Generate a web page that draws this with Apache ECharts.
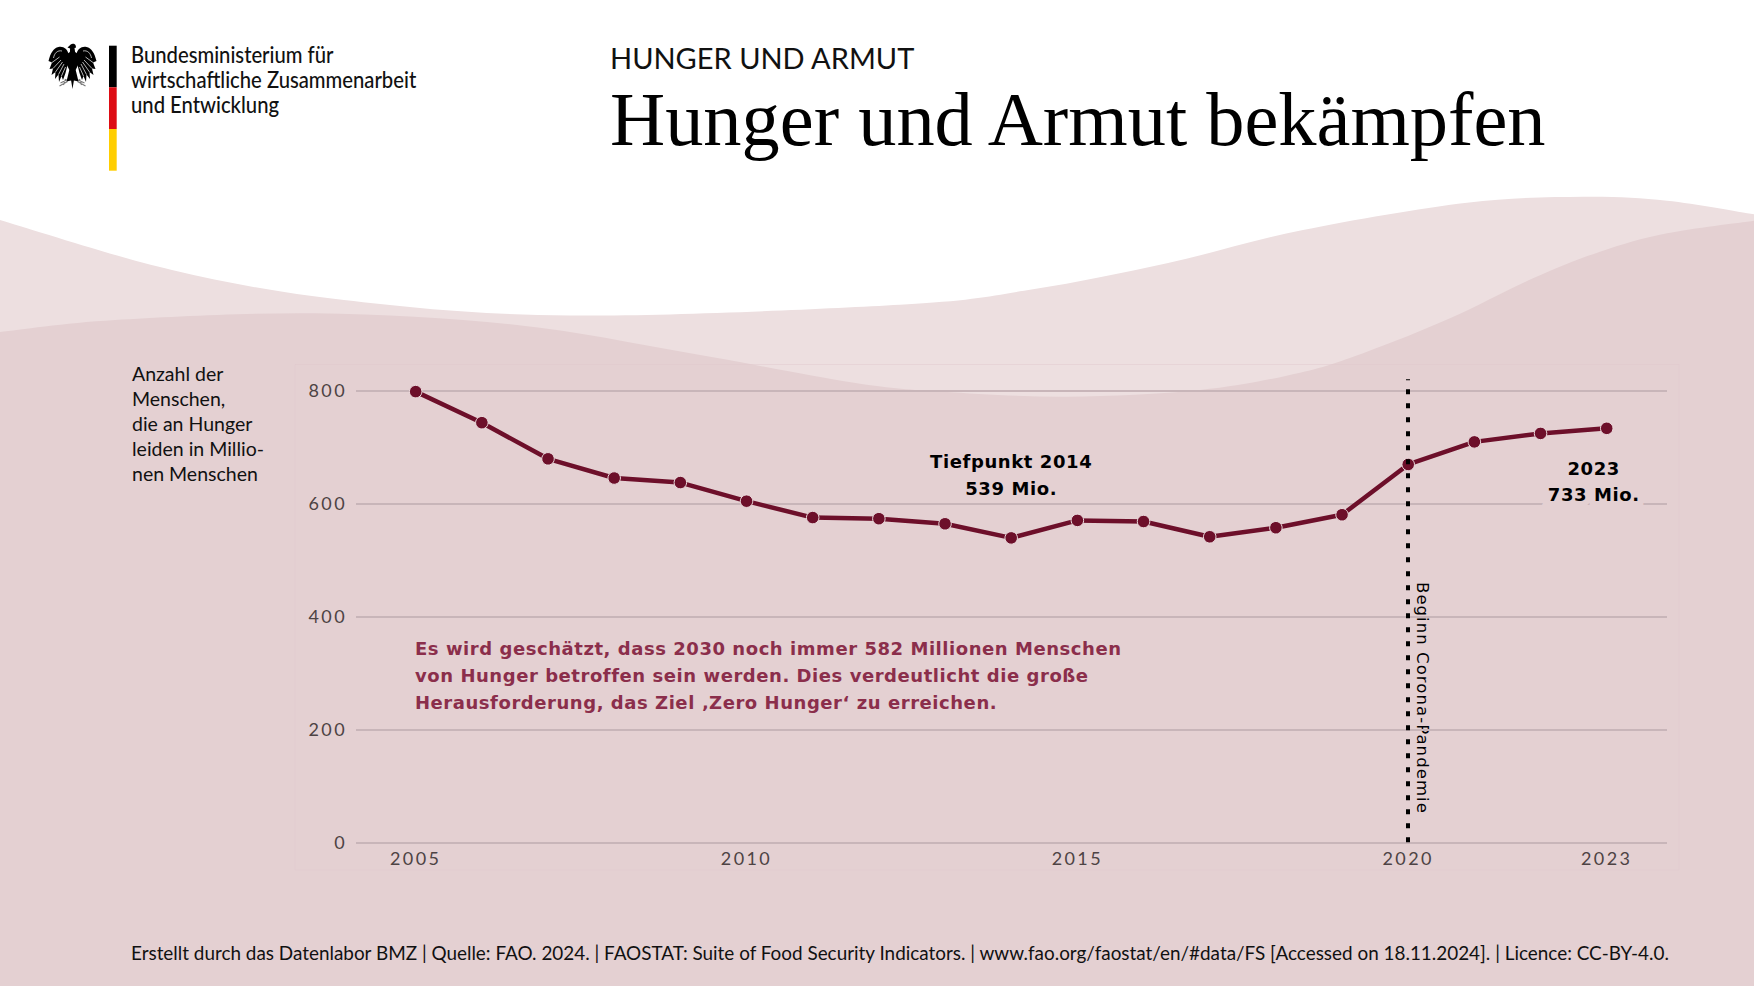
<!DOCTYPE html>
<html lang="de"><head><meta charset="utf-8">
<style>
html,body{margin:0;padding:0;background:#fff}
#c{width:1754px;height:987px}
text[fill="#4d4344"]{letter-spacing:2.4px}
text[fill="#000001"]{letter-spacing:.6px}
text[fill="#8b2e4b"]{letter-spacing:.55px}
text[fill="#000002"]{letter-spacing:1.06px}
</style>
<script src="https://cdn.jsdelivr.net/npm/echarts@6/dist/echarts.min.js"></script>
</head><body><div id="c"></div>
<script>
const years = [2005,2006,2007,2008,2009,2010,2011,2012,2013,2014,2015,2016,2017,2018,2019,2020,2021,2022,2023];
const hungry = [798,743,679,645,637,604,575,573,564,539,570,568,541,557,580,669,709,724,733];
const xTicks = [2005,2010,2015,2020,2023];
const yTicks = [0,200,400,600,800];
const headKicker = 'HUNGER UND ARMUT';
const headTitle = 'Hunger und Armut bekämpfen';
const logoLines = ['Bundesministerium für','wirtschaftliche Zusammenarbeit','und Entwicklung'];
const yNote = ['Anzahl der','Menschen,','die an Hunger','leiden in Millio-','nen Menschen'];
const bodyNote = ['Es wird geschätzt, dass 2030 noch immer 582 Millionen Menschen','von Hunger betroffen sein werden. Dies verdeutlicht die große','Herausforderung, das Ziel ‚Zero Hunger‘ zu erreichen.'];
const lowLabel = 'Tiefpunkt 2014\n539 Mio.';
const lastLabel = '2023\n733 Mio.';
const covidLabel = 'Beginn Corona-Pandemie';
const footer = 'Erstellt durch das Datenlabor BMZ | Quelle: FAO. 2024. | FAOSTAT: Suite of Food Security Indicators. | www.fao.org/faostat/en/#data/FS [Accessed on 18.11.2024]. | Licence: CC-BY-4.0.';

const lightWave = [[0,220],[172,270],[344,300],[570,315.5],[900,304.7],[1033,289.3],[1167,263.3],[1303,230],[1467,202.7],[1583,196.7],[1667,200.7],[1754,214.3]];
const darkWave = [[0,332],[115,320],[316,313.3],[517,325],[689,353],[854,382.7],[943,391.7],[1067,396.7],[1200,390],[1300,372.7],[1367,351.7],[1450,318.3],[1533,278.3],[1600,251.7],[1667,233.3],[1754,220.7]];

function waveShape(p){
  let d = 'M0 986L'+p[0][0]+' '+p[0][1];
  for(let i=0;i<p.length-1;i++){
    const a=p[Math.max(i-1,0)],b=p[i],c=p[i+1],e=p[Math.min(i+2,p.length-1)];
    d+='C'+(b[0]+(c[0]-a[0])/6)+' '+(b[1]+(c[1]-a[1])/6)+' '+(c[0]-(e[0]-b[0])/6)+' '+(c[1]-(e[1]-b[1])/6)+' '+c[0]+' '+c[1];
  }
  return d+'L1754 986Z';
}
let shapeCount = 0;
function pathType(d){
  const name = 'svgShape'+(shapeCount++);
  echarts.graphic.registerShape(name, echarts.graphic.extendPath(d,{}));
  return name;
}
const ink = '#111111';
const wingBlack = 'M-4 11C-5 6-9 3-14 4C-19 5-22 10-24 18L-20.5 19.5L-23 26L-19.5 25.5L-21 32L-17 29L-17.5 36L-14 31.5L-13.5 39L-11 33L-9.5 37L-7 30L-5 22Z';
const wingCuts = 'M-20.5 19.5L-13 14M-19.5 25.5L-11.5 17M-17 29L-10 19M-14 31.5L-8.5 21M-11 33L-7 24M-19 15C-18 10-15 7-10.5 8';
const eagleBody = 'M-1.8 1.5C-.5 .2 2 .4 3 2L3.6 4.6L2 5L2.6 9L5.5 11L6 21L3.2 27L6 38.5L1.4 37.5L0 46L-1.4 37.5L-6 38.5L-3.2 27L-6 21L-5.5 11L-2.6 9L-2.4 5.4L-5 4.6Z';
const eagleFeet = 'M-4 36L-12 40M-5 38.5L-13 43M-7 36L-9 42M3.5 36L12 40M5 38.5L13 43M7 36L9 42';

function eagle(){
  const wb=pathType(wingBlack), wc=pathType(wingCuts), ef=pathType(eagleFeet), eb=pathType(eagleBody);
  const wing = s => [
    {type:wb,scaleX:s,style:{fill:'#000'}},
    {type:wc,scaleX:s,style:{fill:'none',stroke:'#fff',lineWidth:.7}}
  ];
  return {type:'group',x:72.5,y:43,children:[
    ...wing(1),...wing(-1),
    {type:ef,style:{fill:'none',stroke:'#777',lineWidth:1.1}},
    {type:eb,style:{fill:'#000'}}
  ]};
}
const textEl = (t,x,y,font,fill,extra) => Object.assign({type:'text',x,y,style:Object.assign({text:t,font,fill,textVerticalAlign:'middle',textBaseline:'middle'},extra&&extra.style||{})},extra&&extra.el||{});

const graphics = [
  {type:pathType(waveShape(lightWave)),z:-10,style:{fill:'#eddfe0'}},
  {type:pathType(waveShape(darkWave)),z:-9,style:{fill:'#e4d0d2'}},
  {type:'rect',z:-8,shape:{x:295,y:364.5,width:1384,height:505.5},style:{fill:'rgba(255,255,255,0.01)',stroke:'rgba(225,200,203,0.45)',lineWidth:1}},
  eagle(),
  {type:'rect',shape:{x:109,y:45.7,width:7.7,height:41.6},style:{fill:'#000'}},
  {type:'rect',shape:{x:109,y:87.3,width:7.7,height:41.7},style:{fill:'#dd0c14'}},
  {type:'rect',shape:{x:109,y:129,width:7.7,height:41.7},style:{fill:'#ffce00'}},
  ...logoLines.map((t,i)=>textEl(t,131,54.5+i*25,'500 23px Lato',ink,{el:{scaleX:.88}})),
  textEl(headKicker,610,57,'29px Lato',ink),
  textEl(headTitle,610,119,'76.4px "Liberation Serif"','#000000'),
  ...yNote.map((t,i)=>textEl(t,132,373.5+i*25,'19.5px Lato',ink)),
  ...bodyNote.map((t,i)=>textEl(t,415,648.5+i*26.8,'bold 18px "DejaVu Sans"','#8b2e4b')),
  {type:'text',x:1422,y:582,rotation:-Math.PI/2,style:{text:covidLabel,font:'16.5px "DejaVu Sans"',fill:'#000002',textVerticalAlign:'middle',textBaseline:'middle'}},
  textEl(footer,131,952,'18.9px Lato',ink)
];

const chart = echarts.init(document.getElementById('c'),null,{renderer:'svg'});
chart.setOption({
  animation:false,
  backgroundColor:'transparent',
  graphic:graphics,
  grid:{left:356,right:87,top:379.2,bottom:144.7},
  xAxis:{type:'value',min:2004.098,max:2023.911,
    axisLine:{show:false},axisTick:{show:false,customValues:xTicks},splitLine:{show:false},
    axisLabel:{customValues:xTicks,formatter:v=>String(v),color:'#4d4344',fontFamily:'Lato',fontSize:18,margin:7,showMinLabel:true,showMaxLabel:true,hideOverlap:false}},
  yAxis:{type:'value',min:0,max:820,
    axisLine:{show:false},axisTick:{show:false,customValues:yTicks},
    splitLine:{show:true,lineStyle:{color:'#c8b5b9',width:2}},
    axisLabel:{customValues:yTicks,color:'#4d4344',fontFamily:'Lato',fontSize:18,margin:9}},
  series:[{
    type:'line',z:5,
    data:years.map((y,i)=>[y,hungry[i]]),
    lineStyle:{color:'#6d0f2a',width:4.5},
    symbol:'circle',symbolSize:12.5,
    itemStyle:{color:'#6d0f2a',borderColor:'#ecdcde',borderWidth:1},
    label:{show:false},
    markLine:{silent:true,symbol:'none',z:6,
      lineStyle:{color:'#000',width:4,type:[5,9]},
      label:{show:false},
      data:[[{xAxis:2020,yAxis:0},{xAxis:2020,yAxis:820}]]},
    markPoint:{silent:true,symbol:'circle',symbolSize:0,
      data:[
        {coord:[2014,539],label:{show:true,formatter:lowLabel,position:'inside',offset:[0,-62.6],align:'center',color:'#000001',fontFamily:'DejaVu Sans',fontWeight:'bold',fontSize:18,lineHeight:26.8}},
        {coord:[2023,733],label:{show:true,formatter:lastLabel,position:'inside',offset:[-13,53],align:'center',color:'#000001',fontFamily:'DejaVu Sans',fontWeight:'bold',fontSize:18,lineHeight:26.5,textBorderColor:'#e4d0d2',textBorderWidth:12}}
      ]}
  }]
});
</script></body></html>
